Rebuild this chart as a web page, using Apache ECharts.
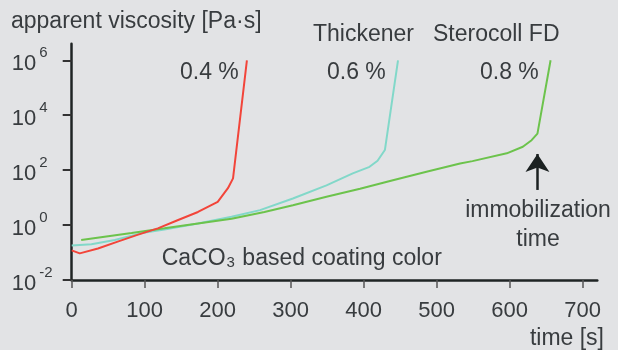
<!DOCTYPE html>
<html>
<head>
<meta charset="utf-8">
<script src="https://cdn.jsdelivr.net/npm/echarts@6/dist/echarts.min.js"></script>
<style>
html,body{margin:0;padding:0;background:#e2e3e5;}
#c{width:618px;height:350px;}
</style>
</head>
<body>
<div id="c"></div>
<script>
// ---- data (time in s, apparent viscosity in Pa·s) ----
const xTicks = [0, 100, 200, 300, 400, 500, 600, 700];
const yTickExponents = [-2, 0, 2, 4, 6];

const red04Time = [0, 11, 36, 63, 90, 118, 145, 173, 200, 214, 221, 240];
const red04Visc = [0.12, 0.093, 0.14, 0.25, 0.44, 0.76, 1.5, 3.0, 7, 22, 50, 1e6];

const cyan06Time = [0, 27, 59, 96, 127, 173, 219, 258, 303, 349, 385, 408, 419, 429, 447];
const cyan06Visc = [0.18, 0.20, 0.285, 0.51, 0.69, 1.15, 2.0, 3.5, 9.3, 28, 76, 132, 220, 540, 1e6];

const green08Time = [13, 45, 82, 127, 173, 219, 264, 303, 349, 395, 440, 486, 532, 549, 596, 618, 630, 638, 656];
const green08Visc = [0.285, 0.375, 0.51, 0.76, 1.15, 1.7, 3.0, 5.3, 10.7, 21, 43, 87, 175, 213, 410, 710, 1230, 2140, 1e6];

const arrowTime = 638;
const arrowFromVisc = 19;
const arrowToVisc = 388;

// ---- chart ----
const FONT = 'Liberation Sans, Arial, Helvetica, sans-serif';
const TXT = '#383c3f';
const toSeries = (t, v) => t.map((x, i) => [x, Math.log10(v[i])]);

const chart = echarts.init(document.getElementById('c'), null, {renderer: 'canvas'});

function txt(text, x, y, align) {
  return {
    type: 'text', x: x, y: y, silent: true,
    style: {
      text: text, fill: TXT, font: '23px ' + FONT,
      align: align || 'left', verticalAlign: 'middle',
      textAlign: align || 'left', textVerticalAlign: 'middle'
    }
  };
}

const option = {
  animation: false,
  backgroundColor: '#e2e3e5',
  textStyle: {fontFamily: FONT},
  grid: {left: 71.7, top: 43.8, width: 525.6, height: 236.2, containLabel: false},
  xAxis: {
    type: 'value', min: 0, max: 720,
    axisLine: {onZero: false, lineStyle: {color: '#1f2424', width: 2.5}},
    axisTick: {customValues: xTicks, length: 8, lineStyle: {color: '#555', width: 1.5}},
    axisLabel: {customValues: xTicks, margin: 20, fontSize: 22, lineHeight: 22, color: TXT, fontFamily: FONT},
    splitLine: {show: false}
  },
  yAxis: {
    type: 'value', min: -2, max: 6.6,
    axisLine: {show: true, onZero: false, lineStyle: {color: '#1f2424', width: 2.5}},
    axisTick: {show: true, customValues: yTickExponents, length: 9, lineStyle: {color: '#333', width: 2}},
    axisLabel: {
      customValues: yTickExponents, margin: 60, align: 'left',
      formatter: v => '{b|10}{s|' + v + '}',
      rich: {
        b: {fontSize: 22, lineHeight: 30, verticalAlign: 'bottom', color: TXT, fontFamily: FONT},
        s: {fontSize: 15, lineHeight: 15, verticalAlign: 'top', padding: [0, 0, 0, 3], color: TXT, fontFamily: FONT}
      }
    },
    splitLine: {show: false}
  },
  series: [
    {
      name: '0.6 %', type: 'line', data: toSeries(cyan06Time, cyan06Visc),
      symbol: 'none', showSymbol: false, silent: true,
      lineStyle: {color: '#82d8c9', width: 2}, z: 2
    },
    {
      name: '0.8 %', type: 'line', data: toSeries(green08Time, green08Visc),
      symbol: 'none', showSymbol: false, silent: true,
      lineStyle: {color: '#6cc34c', width: 2}, z: 3,
      markLine: {
        silent: true, animation: false,
        symbol: ['none', 'arrow'], symbolSize: 18,
        lineStyle: {color: '#1b2121', width: 2.5, type: 'solid'},
        itemStyle: {color: '#1b2121'},
        label: {show: false},
        emphasis: {disabled: true},
        data: [[{coord: [arrowTime, Math.log10(arrowFromVisc)]}, {coord: [arrowTime, Math.log10(arrowToVisc)]}]]
      }
    },
    {
      name: '0.4 %', type: 'line', data: toSeries(red04Time, red04Visc),
      symbol: 'none', showSymbol: false, silent: true,
      lineStyle: {color: '#f2453a', width: 2}, z: 4
    }
  ],
  graphic: [
    txt('apparent viscosity [Pa·s]', 11, 22),
    txt('0.4 %', 180, 73),
    txt('Thickener', 313, 35),
    txt('Sterocoll FD', 433, 35),
    txt('0.6 %', 327, 73),
    txt('0.8 %', 480, 73),
    txt('immobilization', 538, 211, 'center'),
    txt('time', 538, 239.5, 'center'),
    txt('time [s]', 604, 339, 'right'),
    {
      type: 'text', x: 161.7, y: 259, silent: true,
      style: {
        text: 'CaCO{sub|3} based coating color', fill: TXT,
        fontSize: 23, fontFamily: FONT, lineHeight: 23,
        align: 'left', verticalAlign: 'middle', textAlign: 'left', textVerticalAlign: 'middle',
        rich: {
          sub: {fontSize: 15, lineHeight: 8, verticalAlign: 'bottom', fill: TXT, color: TXT, fontFamily: FONT, padding: [0, 1, 0, 1]}
        }
      }
    }
  ]
};
chart.setOption(option);
</script>
</body>
</html>
